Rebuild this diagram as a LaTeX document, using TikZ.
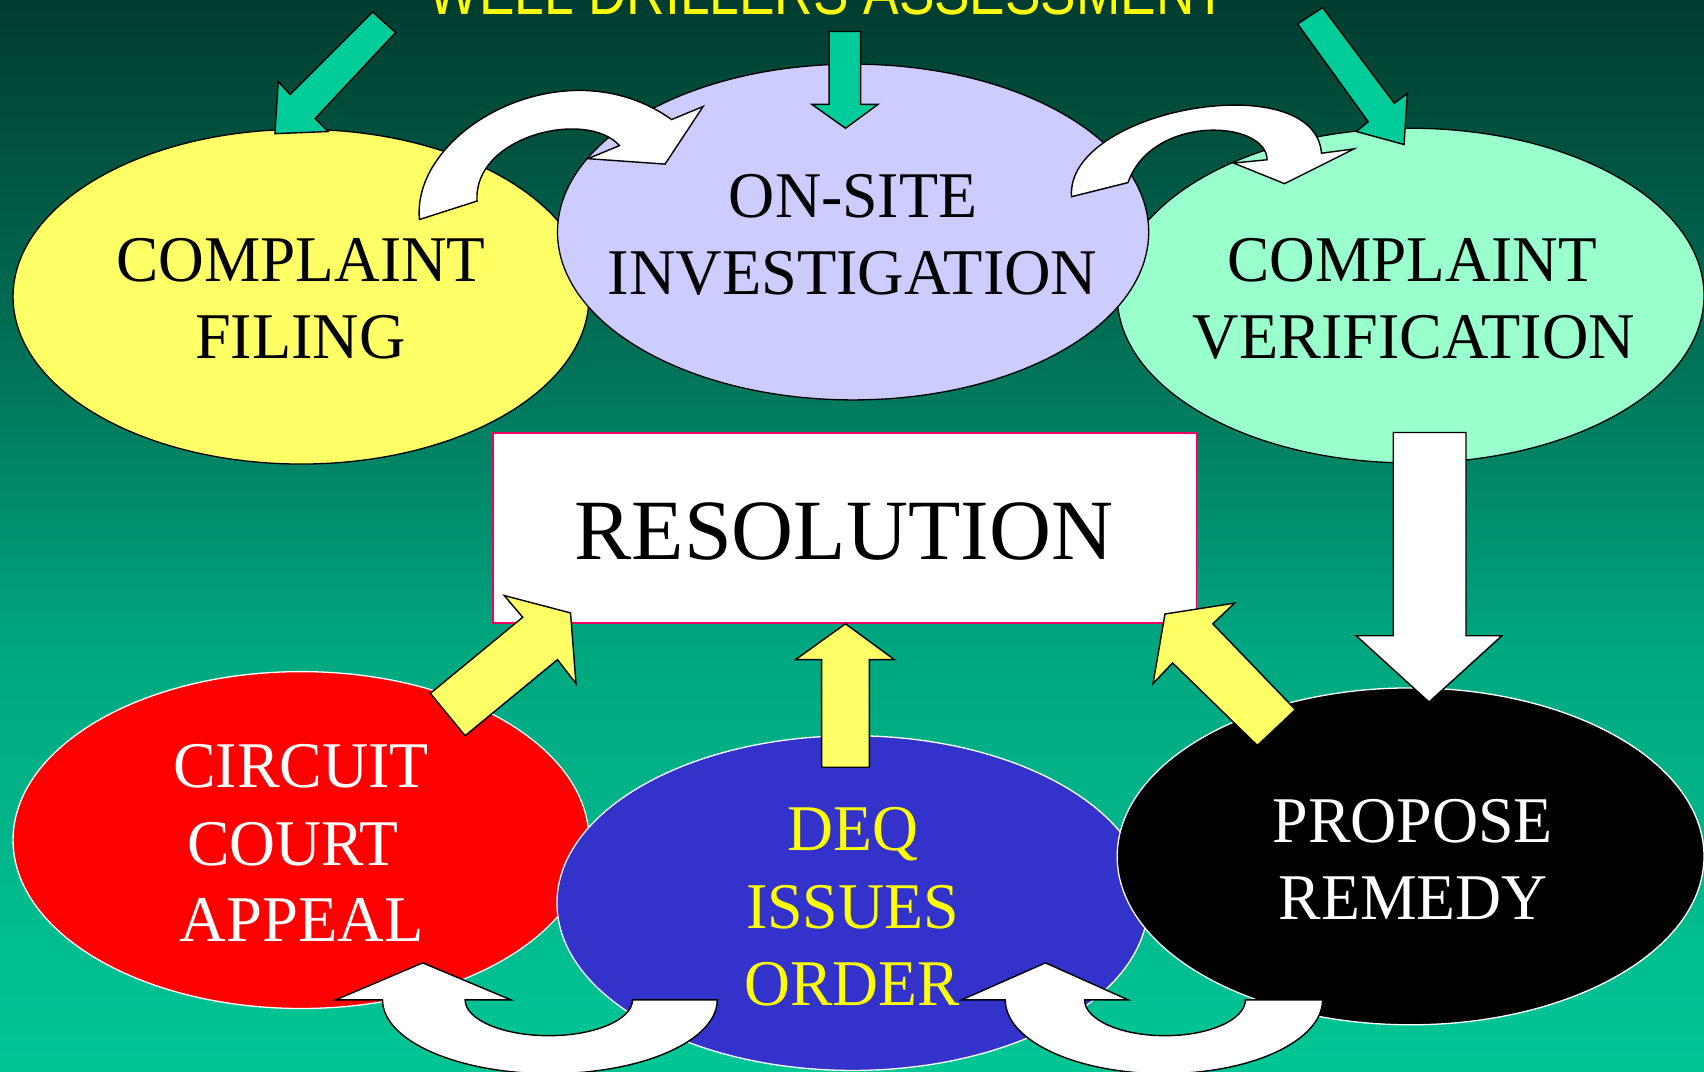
\documentclass[tikz,border=0pt]{standalone}
\usepackage{fontspec}
\setmainfont{Liberation Serif}
\newfontfamily\titlefont{Liberation Sans}
\usetikzlibrary{shapes.geometric}
\definecolor{bgA}{RGB}{0,60,47}
\definecolor{bgB}{RGB}{0,118,90}
\definecolor{bgC}{RGB}{0,168,128}
\definecolor{bgD}{RGB}{0,198,150}
\definecolor{cffill}{RGB}{255,255,102}
\definecolor{osfill}{RGB}{204,204,255}
\definecolor{cvfill}{RGB}{153,255,204}
\definecolor{ccfill}{RGB}{255,0,0}
\definecolor{dqfill}{RGB}{51,51,204}
\definecolor{greenarrow}{RGB}{0,204,153}
\definecolor{yellowarrow}{RGB}{255,255,102}
\definecolor{resborder}{RGB}{235,0,100}
\definecolor{titleyellow}{RGB}{255,255,0}
\newcommand\squeeze[2]{\scalebox{#1}[1]{#2}}
\begin{document}
\begin{tikzpicture}[x=1pt,y=-1pt,
  oval/.style={ellipse, inner sep=0pt, line width=1.2pt},
  upperoval/.style={oval, draw=black},
  loweroval/.style={oval, draw=white},
  lbl/.style={anchor=base, inner sep=0pt, font=\fontsize{60}{60}\selectfont},
  greenblk/.style={fill=greenarrow, draw=black, line width=1.3pt},
  whiteblk/.style={fill=white, draw=black, line width=1.3pt},
  yellowblk/.style={fill=yellowarrow, draw=black, line width=1.3pt}]
\useasboundingbox (0,0) rectangle (1568,986);
\clip (0,0) rectangle (1568,986);
% background
\shade[top color=bgA, bottom color=bgB] (0,0) rectangle (1568,350.5);
\shade[top color=bgB, bottom color=bgC] (0,350) rectangle (1568,600.5);
\shade[top color=bgC, bottom color=bgD] (0,600) rectangle (1568,986);
% title
\node[anchor=base, inner sep=0pt, text=titleyellow, font=\titlefont\fontsize{60}{60}\selectfont] (title) at (762,13) {\squeeze{0.816}{WELL DRILLERS ASSESSMENT}};
% upper ellipses
\node[upperoval, fill=cffill, minimum width=530pt, minimum height=308pt] (filing) at (277,273) {};
\node[upperoval, fill=cvfill, minimum width=540pt, minimum height=308pt] (verif) at (1298,272) {};
\node[upperoval, fill=osfill, minimum width=544pt, minimum height=309pt] (onsite) at (785,213.5) {};
% top white curved arrows
\draw[whiteblk] (386,202) .. controls (378,120) and (520,40) .. (618,110) -- (647,98) -- (612,151) -- (541,146) -- (570,134) .. controls (540,100) and (435,125) .. (439,185) -- cycle;
\draw[whiteblk] (986,181) .. controls (980,100) and (1210,60) .. (1216,141) -- (1246,137) -- (1182,169) -- (1135,150) -- (1166,147) .. controls (1165,110) and (1060,105) .. (1038,168) -- cycle;
% green arrows
\draw[greenblk] (343,11) -- (364,30) -- (290,109) -- (302,121) -- (253,123) -- (256,75) -- (267,87) -- cycle;
\draw[greenblk] (763,29) -- (792,29) -- (792,96) -- (808,96) -- (778,118) -- (747,96) -- (763,96) -- cycle;
\draw[greenblk] (1194,22) -- (1217,7) -- (1283,95) -- (1295,86) -- (1292,133) -- (1248,121) -- (1259,112) -- cycle;
% upper labels
\node[lbl] (cf1) at (277,259) {\squeeze{0.97}{COMPLAINT}};
\node[lbl] (cf2) at (276.5,330) {\squeeze{0.985}{FILING}};
\node[lbl] (os1) at (785,200) {\squeeze{0.98}{ON-SITE}};
\node[lbl] (os2) at (784.5,271) {\squeeze{0.987}{INVESTIGATION}};
\node[lbl] (cv1) at (1299.5,259) {\squeeze{0.97}{COMPLAINT}};
\node[lbl] (cv2) at (1301,330) {\squeeze{0.985}{VERIFICATION}};
% resolution box
\node[draw=resborder, fill=white, line width=1.8pt, minimum width=647pt, minimum height=175pt, inner sep=0pt] (res) at (777.5,485.5) {};
\node[anchor=base, inner sep=0pt, font=\fontsize{79}{79}\selectfont] (restext) at (776.5,515) {RESOLUTION};
% lower ellipses
\node[loweroval, fill=ccfill, minimum width=530pt, minimum height=310pt] (court) at (277,773) {};
\node[loweroval, fill=dqfill, minimum width=544pt, minimum height=308pt] (deq) at (784.5,831) {};
\node[loweroval, fill=black, minimum width=540pt, minimum height=310pt] (remedy) at (1298,788) {};
% lower labels
\node[lbl, text=white] (cc1) at (277,725) {\squeeze{0.98}{CIRCUIT}};
\node[lbl, text=white] (cc2) at (269.5,796) {\squeeze{0.975}{COURT}};
\node[lbl, text=white] (cc3) at (277.5,866) {\squeeze{0.99}{APPEAL}};
\node[lbl, text=titleyellow] (dq1) at (785,783) {\squeeze{0.975}{DEQ}};
\node[lbl, text=titleyellow] (dq2) at (784.5,854) {\squeeze{0.98}{ISSUES}};
\node[lbl, text=titleyellow] (dq3) at (784,925) {\squeeze{0.975}{ORDER}};
\node[lbl, text=white] (pr1) at (1300,775) {\squeeze{0.98}{PROPOSE}};
\node[lbl, text=white] (pr2) at (1300.5,846) {\squeeze{0.977}{REMEDY}};
% yellow arrows
\draw[yellowblk] (428,677) -- (396,638) -- (481,568) -- (464,548) -- (525,564) -- (530,629) -- (513,607) -- cycle;
\draw[yellowblk] (756,706) -- (800,706) -- (800,607) -- (823,607) -- (778,574) -- (732,607) -- (756,607) -- cycle;
\draw[yellowblk] (1157,686) -- (1192,653) -- (1116,574) -- (1136,555) -- (1072,565) -- (1061,629) -- (1079,610) -- cycle;
% white down arrow
\draw[whiteblk] (1282,398) -- (1349,398) -- (1349,585) -- (1382,585) -- (1315,646) -- (1248,585) -- (1282,585) -- cycle;
% bottom white curved arrows
\draw[whiteblk] (389,886) -- (470,920) -- (428,920) .. controls (428,938.2) and (462.5,953) .. (505,953) .. controls (547.5,953) and (582,938.2) .. (582,920) -- (660,920) .. controls (660,957.6) and (591,988) .. (506,988) .. controls (421,988) and (352,957.6) .. (352,920) -- (309,920) -- cycle;
\draw[whiteblk] (962,886) -- (1038,920) -- (998,920) .. controls (998,938.2) and (1031.1,953) .. (1072,953) .. controls (1112.9,953) and (1146,938.2) .. (1146,920) -- (1217,920) .. controls (1217,957.6) and (1151.6,988) .. (1071,988) .. controls (990.4,988) and (925,957.6) .. (925,920) -- (885,920) -- cycle;
\end{tikzpicture}
\end{document}
